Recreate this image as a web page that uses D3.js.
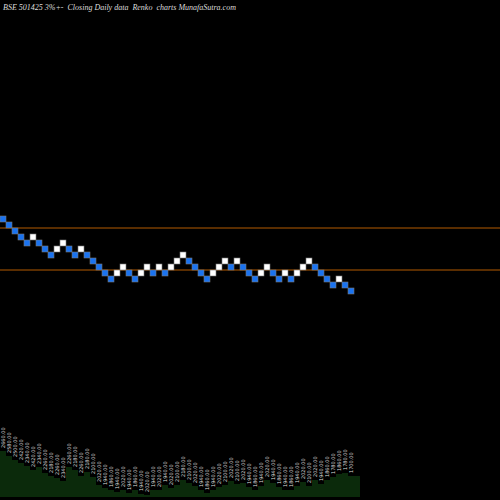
<!DOCTYPE html>
<html>
<head>
<script src="https://cdn.jsdelivr.net/npm/d3@7"></script>
<style>body{margin:0;background:#000;}</style>
</head>
<body>
<script>
// renko brick closes (3% bricks), left to right
var closes = [2660,2580,2500,2420,2340,2420,2340,2260,2180,2260,
	2340,2260,2180,2260,2180,2100,2020,1940,1860,1940,
	2020,1940,1860,1940,2020,1940,2020,1940,2020,2100,
	2180,2100,2020,1940,1860,1940,2020,2100,2020,2100,
	2020,1940,1860,1940,2020,1940,1860,1940,1860,1940,
	2020,2100,2020,1940,1860,1780,1860,1780,1700];
var volumes = [46,41,37,34,31,27,30,24,21,19,
	16,30,27,21,25,20,12,9,7,5,
	7,4,7,3,2,7,7,12,9,12,
	17,14,11,7,4,7,10,12,16,13,
	14,10,7,11,17,14,10,7,7,11,
	15,11,17,13,17,20,23,24,21];
var levels = [2500,1940];

var W = 500, H = 500, step = 6;

var svg = d3.select("body").append("svg")
	.attr("width", W).attr("height", H)
	.style("background", "#000");

var x = d3.scaleLinear().domain([0, 1]).range([0, step]);
var y = d3.scaleLinear().domain([2660, 1700]).range([216, 288]);
var yv = d3.scaleLinear().domain([0, 46]).range([497, 451]);

svg.append("text")
	.attr("x", 3).attr("y", 10)
	.attr("fill", "#ddd")
	.style("white-space", "pre")
	.style("font-family", "Liberation Serif, serif")
	.style("font-style", "italic")
	.style("font-size", "8px")
	.text("BSE 501425 3%+-  Closing Daily data  Renko  charts MunafaSutra.com");

svg.selectAll(".lvl").data(levels).enter().append("line")
	.attr("x1", 0).attr("x2", W)
	.attr("y1", d => y(d)).attr("y2", d => y(d))
	.attr("stroke", "#b35a00").attr("stroke-width", 1);

svg.selectAll(".brick").data(closes).enter().append("rect")
	.attr("x", (d, i) => x(i))
	.attr("y", d => y(d))
	.attr("width", step).attr("height", step)
	.attr("fill", (d, i) => i > 0 && d > closes[i - 1] ? "#ffffff" : "#1a73f0")
	.attr("stroke", "#777").attr("stroke-width", 0.6);

var area = d3.area()
	.curve(d3.curveStepAfter)
	.x((d, i) => x(i))
	.y0(497)
	.y1(d => yv(d));
svg.append("path")
	.datum(volumes.concat([volumes[volumes.length - 1], volumes[volumes.length - 1]]))
	.attr("d", area)
	.attr("fill", "#0b2a0b");

svg.selectAll(".lab").data(closes).enter().append("text")
	.attr("transform", (d, i) => "translate(" + (x(i) + 4.5) + "," + (yv(volumes[i]) - 3) + ") rotate(-90)")
	.attr("fill", "#ddd")
	.style("font-family", "DejaVu Sans, sans-serif")
	.style("font-size", "5px")
	.text(d => d.toFixed(2));
</script>
</body>
</html>
